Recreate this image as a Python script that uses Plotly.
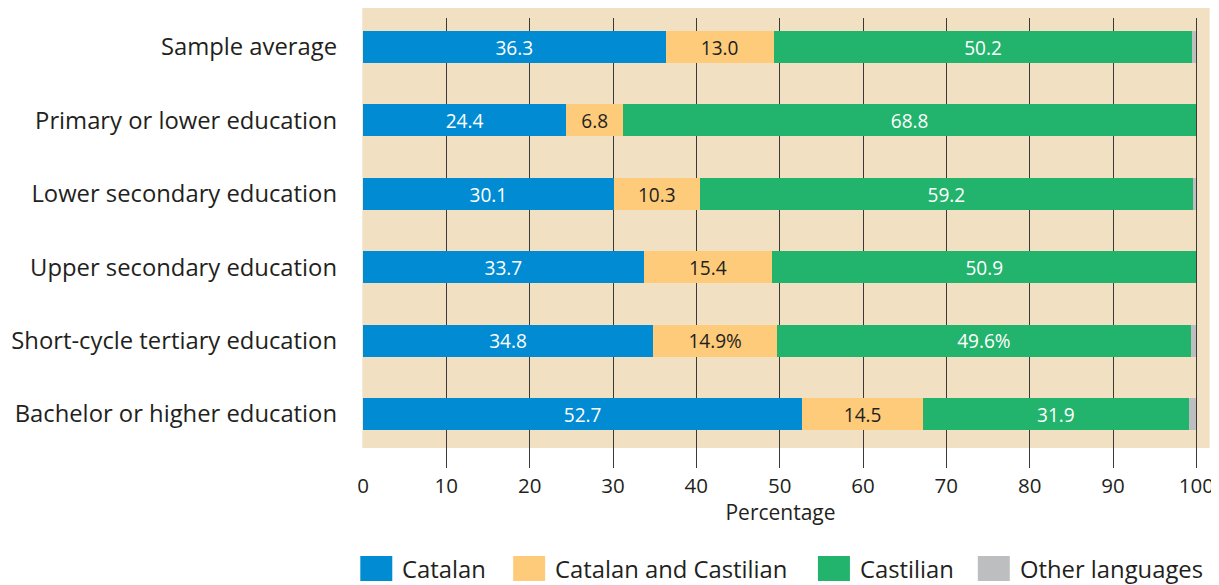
import plotly.graph_objects as go

categories = ["Sample average", "Primary or lower education", "Lower secondary education",
              "Upper secondary education", "Short-cycle tertiary education", "Bachelor or higher education"]
catalan = [36.3, 24.4, 30.1, 33.7, 34.8, 52.7]
both = [13.0, 6.8, 10.3, 15.4, 14.9, 14.5]
castilian = [50.2, 68.8, 59.2, 50.9, 49.6, 31.9]
other = [0.5, 0.0, 0.4, 0.0, 0.7, 0.9]
catalan_text = ["36.3", "24.4", "30.1", "33.7", "34.8", "52.7"]
both_text = ["13.0", "6.8", "10.3", "15.4", "14.9%", "14.5"]
castilian_text = ["50.2", "68.8", "59.2", "50.9", "49.6%", "31.9"]
series_names = ["Catalan", "Catalan and Castilian", "Castilian", "Other languages"]
colors = ["#008BD2", "#FECB7A", "#22B36C", "#BDBEC0"]
x_ticks = [0, 10, 20, 30, 40, 50, 60, 70, 80, 90, 100]

FONT = "Open Sans"
DARK = "#231F20"

fig = go.Figure()
series = [(catalan, catalan_text, "white"), (both, both_text, DARK),
          (castilian, castilian_text, "white"), (other, None, DARK)]
for (vals, txt, tc), name, col in zip(series, series_names, colors):
    fig.add_trace(go.Bar(
        y=categories, x=vals, orientation="h", name=name,
        marker=dict(color=col, line=dict(width=0)),
        text=txt, textposition="inside" if txt else "none",
        insidetextanchor="middle", textangle=0,
        insidetextfont=dict(family=FONT, size=22, color=tc),
        width=0.436, showlegend=False, hoverinfo="x+name",
    ))

# page body has an 8px margin: work in page coords and subtract it
OFF = 8
XMAX = 100.2
FW, FH = 1219 - OFF, 585 - OFF
L, T, B = 362.7 - OFF, 18 - OFF, 468 - OFF
R = L + XMAX * 8.34
W = R - L
H = B - T


def px(x):
    return (x - OFF - L) / W


def py(y):
    return (B - (y - OFF)) / H


fig.update_layout(
    width=FW, height=FH,
    margin=dict(l=L, r=FW - R, t=T, b=FH - B, autoexpand=False),
    barmode="stack",
    plot_bgcolor="rgba(0,0,0,0)", paper_bgcolor="white",
    font=dict(family=FONT, color=DARK, size=20),
    xaxis=dict(range=[0, XMAX], tickvals=x_ticks, showgrid=True, gridcolor="#3a3a3a",
               gridwidth=1, zeroline=False, showline=False, ticks="",
               tickfont=dict(size=20.5, color=DARK), ticklabelstandoff=3,
               ticklabeloverflow="allow",
               title=dict(text="Percentage", font=dict(size=21, color=DARK), standoff=4),
               automargin=False, fixedrange=True),
    yaxis=dict(categoryorder="array", categoryarray=categories,
               range=[5.736, -0.395], showgrid=False, zeroline=False, showline=False,
               ticks="", ticklabelstandoff=25, tickfont=dict(size=23.8, color=DARK),
               automargin=False, fixedrange=True),
)

# beige panel behind the bars (and below gridlines)
fig.add_shape(type="rect", xref="paper", yref="paper", layer="below",
              x0=px(362), x1=px(1210), y0=py(448), y1=py(8),
              fillcolor="#F2E0C3", line=dict(width=0))

# manual legend with large swatches
legend_x = [360, 513, 818, 978]
for name, col, lx in zip(series_names, colors, legend_x):
    fig.add_shape(type="rect", xref="paper", yref="paper",
                  x0=px(lx), x1=px(lx + 32), y0=py(581), y1=py(556),
                  fillcolor=col, line=dict(width=0))
    fig.add_annotation(xref="paper", yref="paper", x=px(lx + 40), y=py(569),
                       text=name, showarrow=False, xanchor="left", yanchor="middle",
                       font=dict(family=FONT, size=23.8, color=DARK))

fig.write_html("out.html")
